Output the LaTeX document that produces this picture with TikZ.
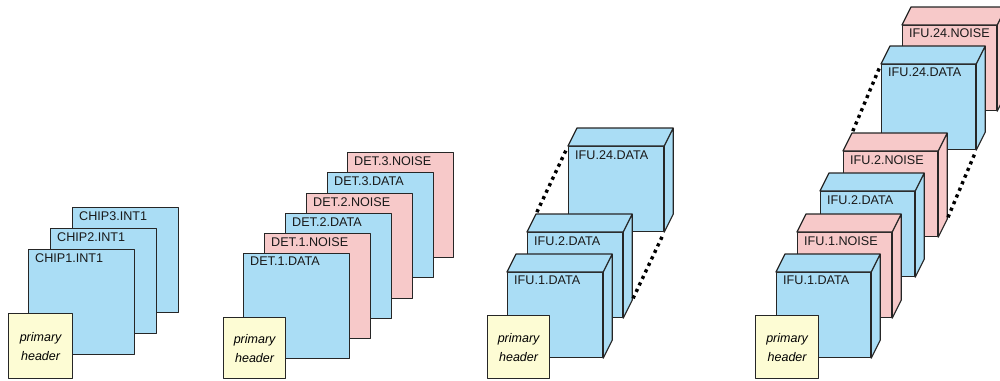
\documentclass[tikz,border=0pt]{standalone}
\usepackage{fontspec}
\setmainfont{Liberation Sans}
\usepackage{tikz}
\definecolor{datablue}{RGB}{170,221,245}
\definecolor{noisepink}{RGB}{247,201,201}
\definecolor{headeryellow}{RGB}{253,252,212}

\begin{document}
\begin{tikzpicture}[x=1pt, y=-1pt,
  outline/.style={draw=black!85, line width=1.2pt, line join=round},
  flatpanel/.style={outline, anchor=north west, inner sep=0pt, minimum width=106pt, minimum height=105pt},
  cubefront/.style={outline, anchor=north west, inner sep=0pt, minimum width=95pt, minimum height=85pt},
  paneltag/.style={anchor=north west, inner sep=0pt, label distance=0pt, xshift=7pt, yshift=-4pt,
               text=black!90, font=\fontsize{12.6}{14}\selectfont},
  hdrbox/.style={outline, fill=headeryellow, anchor=north west, inner sep=0pt, align=center,
                 font=\fontsize{12.5}{19}\selectfont\itshape},
  dotline/.style={line width=3.4pt, dash pattern=on 3.2pt off 4pt, shorten <=2pt, shorten >=2pt}]

 \useasboundingbox (0,0) rectangle (1000,380);


 \node [flatpanel, fill=datablue, label={[paneltag]north west:CHIP3.INT1}] (chip_3) at (72,207) {};
 \node [flatpanel, fill=datablue, label={[paneltag]north west:CHIP2.INT1}] (chip_2) at (50,228) {};
 \node [flatpanel, fill=datablue, label={[paneltag]north west:CHIP1.INT1}] (chip_1) at (28,249) {};

 \node [hdrbox, minimum width=64pt, minimum height=65pt] (header_1) at (8,313)
     {primary\\header};


 \node [flatpanel, fill=noisepink, label={[paneltag]north west:DET.3.NOISE}] (det_3_noise) at (347,152) {};
 \node [flatpanel, fill=datablue,  label={[paneltag]north west:DET.3.DATA}]  (det_3_data)  at (327,172) {};
 \node [flatpanel, fill=noisepink, label={[paneltag]north west:DET.2.NOISE}] (det_2_noise) at (306,193) {};
 \node [flatpanel, fill=datablue,  label={[paneltag]north west:DET.2.DATA}]  (det_2_data)  at (285,213) {};
 \node [flatpanel, fill=noisepink, label={[paneltag]north west:DET.1.NOISE}] (det_1_noise) at (264,233) {};
 \node [flatpanel, fill=datablue,  label={[paneltag]north west:DET.1.DATA}]  (det_1_data)  at (243,253) {};

 \node [hdrbox, minimum width=62pt, minimum height=61pt] (header_2) at (223,317)
     {primary\\header};


 \node [cubefront, fill=datablue, label={[paneltag]north west:IFU.24.DATA}] (ifu_24) at (568,146) {};
 \draw [outline, fill=datablue] (ifu_24.north west) -- ([shift={(9,-18)}]ifu_24.north west)
     -- ([shift={(9,-18)}]ifu_24.north east) -- ([shift={(9,-18)}]ifu_24.south east)
     -- (ifu_24.south east) -- (ifu_24.north east) -- cycle
     (ifu_24.north east) -- ([shift={(9,-18)}]ifu_24.north east);

 \node [cubefront, fill=datablue, label={[paneltag]north west:IFU.2.DATA}] (ifu_2) at (527,232) {};
 \draw [outline, fill=datablue] (ifu_2.north west) -- ([shift={(9,-18)}]ifu_2.north west)
     -- ([shift={(9,-18)}]ifu_2.north east) -- ([shift={(9,-18)}]ifu_2.south east)
     -- (ifu_2.south east) -- (ifu_2.north east) -- cycle
     (ifu_2.north east) -- ([shift={(9,-18)}]ifu_2.north east);

 \node [cubefront, fill=datablue, label={[paneltag]north west:IFU.1.DATA}] (ifu_1) at (507,272) {};
 \draw [outline, fill=datablue] (ifu_1.north west) -- ([shift={(9,-18)}]ifu_1.north west)
     -- ([shift={(9,-18)}]ifu_1.north east) -- ([shift={(9,-18)}]ifu_1.south east)
     -- (ifu_1.south east) -- (ifu_1.north east) -- cycle
     (ifu_1.north east) -- ([shift={(9,-18)}]ifu_1.north east);

 \draw [dotline] ([shift={(9,-18)}]ifu_2.north west) -- (ifu_24.north west);
 \draw [dotline] ([shift={(9,-18)}]ifu_2.south east) -- (ifu_24.south east);

 \node [hdrbox, minimum width=62pt, minimum height=63pt] (header_3) at (487,315)
     {primary\\header};


 \node [cubefront, minimum width=94pt, fill=noisepink, label={[paneltag]north west:IFU.24.NOISE}] (ifu_24_noise) at (902,25) {};
 \draw [outline, fill=noisepink] (ifu_24_noise.north west) -- ([shift={(9,-18)}]ifu_24_noise.north west)
     -- ([shift={(9,-18)}]ifu_24_noise.north east) -- ([shift={(9,-18)}]ifu_24_noise.south east)
     -- (ifu_24_noise.south east) -- (ifu_24_noise.north east) -- cycle
     (ifu_24_noise.north east) -- ([shift={(9,-18)}]ifu_24_noise.north east);

 \node [cubefront, minimum width=94pt, fill=datablue, label={[paneltag]north west:IFU.24.DATA}] (ifu_24_data) at (881,64) {};
 \draw [outline, fill=datablue] (ifu_24_data.north west) -- ([shift={(9,-18)}]ifu_24_data.north west)
     -- ([shift={(9,-18)}]ifu_24_data.north east) -- ([shift={(9,-18)}]ifu_24_data.south east)
     -- (ifu_24_data.south east) -- (ifu_24_data.north east) -- cycle
     (ifu_24_data.north east) -- ([shift={(9,-18)}]ifu_24_data.north east);

 \node [cubefront, minimum width=94pt, fill=noisepink, label={[paneltag]north west:IFU.2.NOISE}] (ifu_2_noise) at (843,151) {};
 \draw [outline, fill=noisepink] (ifu_2_noise.north west) -- ([shift={(9,-18)}]ifu_2_noise.north west)
     -- ([shift={(9,-18)}]ifu_2_noise.north east) -- ([shift={(9,-18)}]ifu_2_noise.south east)
     -- (ifu_2_noise.south east) -- (ifu_2_noise.north east) -- cycle
     (ifu_2_noise.north east) -- ([shift={(9,-18)}]ifu_2_noise.north east);

 \node [cubefront, minimum width=94pt, fill=datablue, label={[paneltag]north west:IFU.2.DATA}] (ifu_2_data) at (820,191) {};
 \draw [outline, fill=datablue] (ifu_2_data.north west) -- ([shift={(9,-18)}]ifu_2_data.north west)
     -- ([shift={(9,-18)}]ifu_2_data.north east) -- ([shift={(9,-18)}]ifu_2_data.south east)
     -- (ifu_2_data.south east) -- (ifu_2_data.north east) -- cycle
     (ifu_2_data.north east) -- ([shift={(9,-18)}]ifu_2_data.north east);

 \node [cubefront, minimum width=94pt, fill=noisepink, label={[paneltag]north west:IFU.1.NOISE}] (ifu_1_noise) at (797,232) {};
 \draw [outline, fill=noisepink] (ifu_1_noise.north west) -- ([shift={(9,-18)}]ifu_1_noise.north west)
     -- ([shift={(9,-18)}]ifu_1_noise.north east) -- ([shift={(9,-18)}]ifu_1_noise.south east)
     -- (ifu_1_noise.south east) -- (ifu_1_noise.north east) -- cycle
     (ifu_1_noise.north east) -- ([shift={(9,-18)}]ifu_1_noise.north east);

 \node [cubefront, minimum width=94pt, fill=datablue, label={[paneltag]north west:IFU.1.DATA}] (ifu_1_data) at (776,272) {};
 \draw [outline, fill=datablue] (ifu_1_data.north west) -- ([shift={(9,-18)}]ifu_1_data.north west)
     -- ([shift={(9,-18)}]ifu_1_data.north east) -- ([shift={(9,-18)}]ifu_1_data.south east)
     -- (ifu_1_data.south east) -- (ifu_1_data.north east) -- cycle
     (ifu_1_data.north east) -- ([shift={(9,-18)}]ifu_1_data.north east);

 \draw [dotline] ([shift={(9,-18)}]ifu_2_noise.north west) -- (ifu_24_data.north west);
 \draw [dotline] ([shift={(9,-18)}]ifu_2_noise.south east) -- (ifu_24_data.south east);

 \node [hdrbox, minimum width=63pt, minimum height=63pt] (header_4) at (755,315)
     {primary\\header};


\end{tikzpicture}
\end{document}
